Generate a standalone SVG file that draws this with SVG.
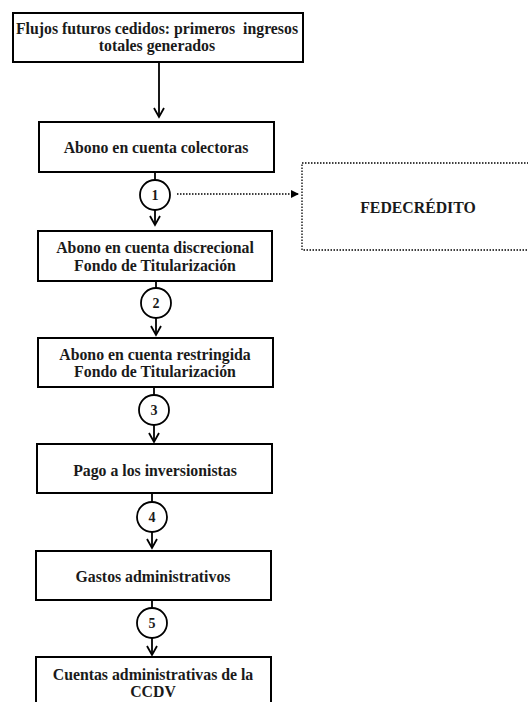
<svg xmlns="http://www.w3.org/2000/svg" width="528" height="702" viewBox="0 0 528 702">
<defs>
<marker id="open" viewBox="0 0 12 12" refX="10" refY="6" markerWidth="12" markerHeight="12" markerUnits="userSpaceOnUse" orient="auto">
<path d="M1,1 L10,6 L1,11" fill="none" stroke="#000" stroke-width="1.8"/>
</marker>
<marker id="solid" viewBox="0 0 8 8" refX="7" refY="4" markerWidth="8" markerHeight="8" markerUnits="userSpaceOnUse" orient="auto">
<path d="M0,0 L8,4 L0,8 Z" fill="#000"/>
</marker>
</defs>
<style>
.box{fill:#fff;stroke:#000;stroke-width:2}
.circ{fill:#fff;stroke:#000;stroke-width:1.8}
.dot{fill:none;stroke:#000;stroke-width:1.3;stroke-dasharray:1.5 1.5}
.t{font-family:"Liberation Serif","Times New Roman",serif;font-weight:bold;font-size:15.8px;text-anchor:middle;fill:#1a1a1a}
.n{font-family:"Liberation Serif","Times New Roman",serif;font-weight:bold;font-size:14px;text-anchor:middle;fill:#1a1a1a}
.c{fill:none;stroke:#000;stroke-width:1.8}
</style>
<rect width="528" height="702" fill="#fff"/>
<g id="connectors">
<line class="c" x1="159" y1="62" x2="159" y2="117" marker-end="url(#open)"/>
<line class="c" x1="155" y1="172" x2="155" y2="180"/>
<line class="c" x1="155" y1="210" x2="155" y2="225" marker-end="url(#open)"/>
<line class="dot" x1="177" y1="194" x2="298" y2="194" marker-end="url(#solid)"/>
<line class="c" x1="156" y1="281" x2="156" y2="288"/>
<line class="c" x1="156" y1="318" x2="156" y2="335" marker-end="url(#open)"/>
<line class="c" x1="154" y1="387" x2="154" y2="395"/>
<line class="c" x1="154" y1="425" x2="154" y2="442" marker-end="url(#open)"/>
<line class="c" x1="152" y1="493" x2="152" y2="502"/>
<line class="c" x1="152" y1="532" x2="152" y2="548" marker-end="url(#open)"/>
<line class="c" x1="152" y1="600" x2="152" y2="608"/>
<line class="c" x1="152" y1="638" x2="152" y2="655" marker-end="url(#open)"/>
</g>
<g id="n1">
<rect class="box" x="13" y="13" width="290" height="49"/>
<text class="t" x="157" y="34" xml:space="preserve">Flujos futuros cedidos: primeros  ingresos</text>
<text class="t" x="157" y="51">totales generados</text>
</g>
<g id="n2">
<rect class="box" x="39" y="122" width="235" height="50"/>
<text class="t" x="156" y="153">Abono en cuenta colectoras</text>
</g>
<g id="c1">
<circle class="circ" cx="155" cy="195" r="15"/>
<text class="n" x="155" y="200">1</text>
</g>
<g id="fede">
<rect class="dot" x="302" y="163" width="240" height="87"/>
<text class="t" x="418" y="213">FEDECRÉDITO</text>
</g>
<g id="n3">
<rect class="box" x="38" y="231" width="234" height="50"/>
<text class="t" x="155" y="253">Abono en cuenta discrecional</text>
<text class="t" x="155" y="271">Fondo de Titularización</text>
</g>
<g id="c2">
<circle class="circ" cx="156" cy="303" r="15"/>
<text class="n" x="156" y="308">2</text>
</g>
<g id="n4">
<rect class="box" x="38" y="338" width="235" height="49"/>
<text class="t" x="155" y="360">Abono en cuenta restringida</text>
<text class="t" x="155" y="377">Fondo de Titularización</text>
</g>
<g id="c3">
<circle class="circ" cx="154" cy="410" r="15"/>
<text class="n" x="154" y="415">3</text>
</g>
<g id="n5">
<rect class="box" x="37" y="444" width="235" height="49"/>
<text class="t" x="155" y="476">Pago a los inversionistas</text>
</g>
<g id="c4">
<circle class="circ" cx="152" cy="517" r="15"/>
<text class="n" x="152" y="522">4</text>
</g>
<g id="n6">
<rect class="box" x="36" y="551" width="235" height="49"/>
<text class="t" x="153" y="582">Gastos administrativos</text>
</g>
<g id="c5">
<circle class="circ" cx="152" cy="623" r="15"/>
<text class="n" x="152" y="628">5</text>
</g>
<g id="n7">
<rect class="box" x="36" y="657" width="235" height="60"/>
<text class="t" x="153" y="680">Cuentas administrativas de la</text>
<text class="t" x="153" y="697">CCDV</text>
</g>
</svg>
